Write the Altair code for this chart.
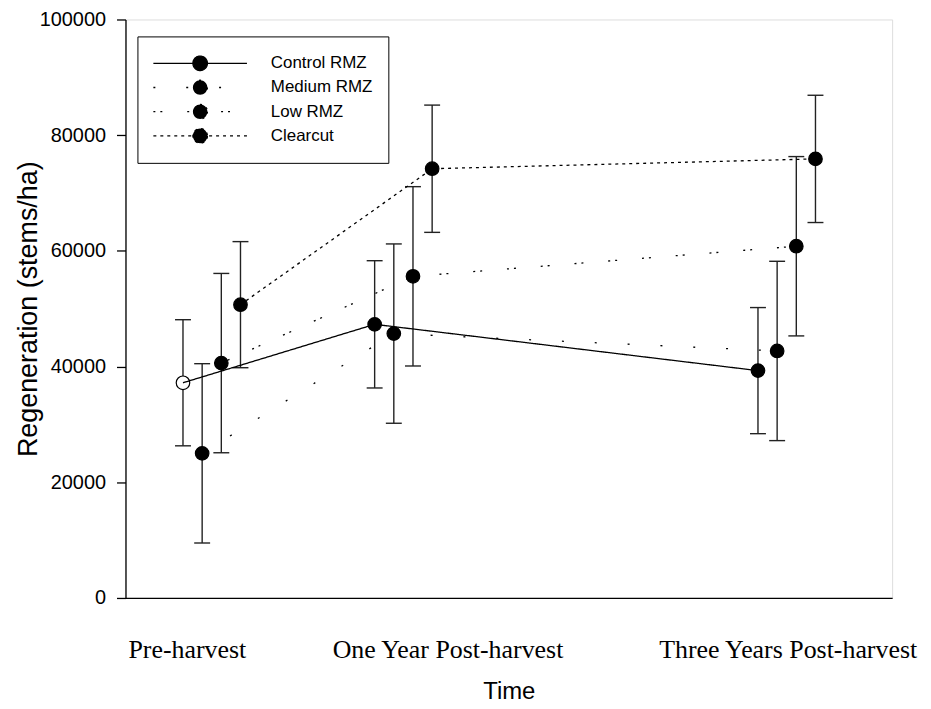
import altair as alt
import pandas as pd

# ---- data ----
series = ["Control RMZ", "Medium RMZ", "Low RMZ", "Clearcut"]
periods = ["Pre-harvest", "One Year Post-harvest", "Three Years Post-harvest"]
period_x = [1, 3, 7]
series_shift = [-0.4, -0.2, 0.0, 0.2]
label_x = [0.64, 3.36, 6.91]

control = [37200, 47300, 39300]
medium = [25000, 45700, 42700]
low = [40600, 55600, 60800]
clearcut = [50700, 74200, 75900]

control_se = [10900, 11000, 10900]
medium_se = [15500, 15500, 15500]
low_se = [15500, 15500, 15500]
clearcut_se = [10900, 11000, 11000]

hollow = [("Control RMZ", "Pre-harvest")]

means = [control, medium, low, clearcut]
ses = [control_se, medium_se, low_se, clearcut_se]
dashes = [[1, 0], [2, 31], [2, 5, 2, 25], [3, 4]]

rows = []
for i, s in enumerate(series):
    for j, p in enumerate(periods):
        m = means[i][j]
        e = ses[i][j]
        rows.append({
            "series": s,
            "period": p,
            "x": period_x[j] + series_shift[i],
            "y": m,
            "lo": m - e,
            "hi": m + e,
            "fillc": "white" if (s, p) in hollow else "black",
        })
df = pd.DataFrame(rows)

xscale = alt.Scale(domain=[0, 8], nice=False, zero=False)
yscale = alt.Scale(domain=[0, 100000], nice=False)

names = "[" + ",".join("'" + p + "'" for p in periods) + "]"
vals = "[" + ",".join(str(v) for v in label_x) + "]"
label_expr = f"{names}[indexof({vals}, datum.value)]"

x_axis = alt.Axis(
    values=label_x, labelExpr=label_expr, ticks=False, tickSize=0, grid=False,
    domainColor="black", domainWidth=1.3,
    labelFont="Liberation Serif", labelFontSize=26, labelColor="black",
    labelBaseline="alphabetic", labelPadding=60, labelOverlap=False,
    labelFlush=False, labelBound=False, labelLimit=0,
    title="Time", titleFont="Liberation Sans", titleFontSize=24,
    titleFontWeight="normal", titleColor="black", titleBaseline="alphabetic",
    titleY=101,
)
y_axis = alt.Axis(
    values=[0, 20000, 40000, 60000, 80000, 100000], format="d",
    tickSize=9, tickColor="black", tickWidth=1.3, domainColor="black",
    domainWidth=1.3, grid=False,
    labelFont="Liberation Sans", labelFontSize=20, labelColor="black",
    labelPadding=11,
    title="Regeneration (stems/ha)", titleFont="Liberation Sans",
    titleFontSize=27, titleFontWeight="normal", titleColor="black",
    titleX=-89, titleY=290.5, titleAngle=270, titleBaseline="alphabetic",
    titleAlign="center",
)

base = alt.Chart(df)

r = 0.155
legend_path = (
    f"M-1,0L1,0M{r},0A{r},{r},0,1,1,-{r},0A{r},{r},0,1,1,{r},0Z"
)

rules = base.mark_rule(color="#222222", strokeWidth=1.4).encode(
    x=alt.X("x:Q", scale=xscale, axis=x_axis),
    y=alt.Y("lo:Q", scale=yscale, axis=y_axis),
    y2="hi:Q",
)
caps = base.transform_fold(["lo", "hi"], as_=["end", "yv"]).mark_tick(
    orient="horizontal", size=16, thickness=1.4, color="#222222", opacity=1
).encode(
    x=alt.X("x:Q", scale=xscale),
    y=alt.Y("yv:Q", scale=yscale),
)
points = base.mark_point(
    shape="circle", size=185, stroke="black", strokeWidth=1.2, opacity=1, filled=False
).encode(
    x=alt.X("x:Q", scale=xscale),
    y=alt.Y("y:Q", scale=yscale),
    fill=alt.Fill("fillc:N", scale=None),
)
lines = base.mark_line(color="black", strokeWidth=1.3).encode(
    x=alt.X("x:Q", scale=xscale),
    y=alt.Y("y:Q", scale=yscale),
    strokeDash=alt.StrokeDash(
        "series:N",
        scale=alt.Scale(domain=series, range=dashes),
        sort=series,
        legend=alt.Legend(
            title=None, orient="none", legendX=12, legendY=17,
            symbolType=legend_path, symbolSize=8836, symbolStrokeWidth=1.3,
            symbolFillColor="black", symbolStrokeColor="black", symbolOpacity=1,
            labelFont="Liberation Sans", labelFontSize=17, labelColor="black",
            labelOffset=23, padding=15, strokeColor="black", fillColor="white",
            rowPadding=0.3, clipHeight=24, cornerRadius=0,
        ),
    ),
    order="x:Q",
)

chart = alt.layer(rules, caps, points, lines).properties(
    width=770, height=581,
    padding={"left": 7, "top": 0, "right": 5, "bottom": 5},
).configure_view(stroke="black", strokeWidth=1.3).configure(background="white")

chart.save("out.html", embed_options={"renderer": "svg", "actions": False})
